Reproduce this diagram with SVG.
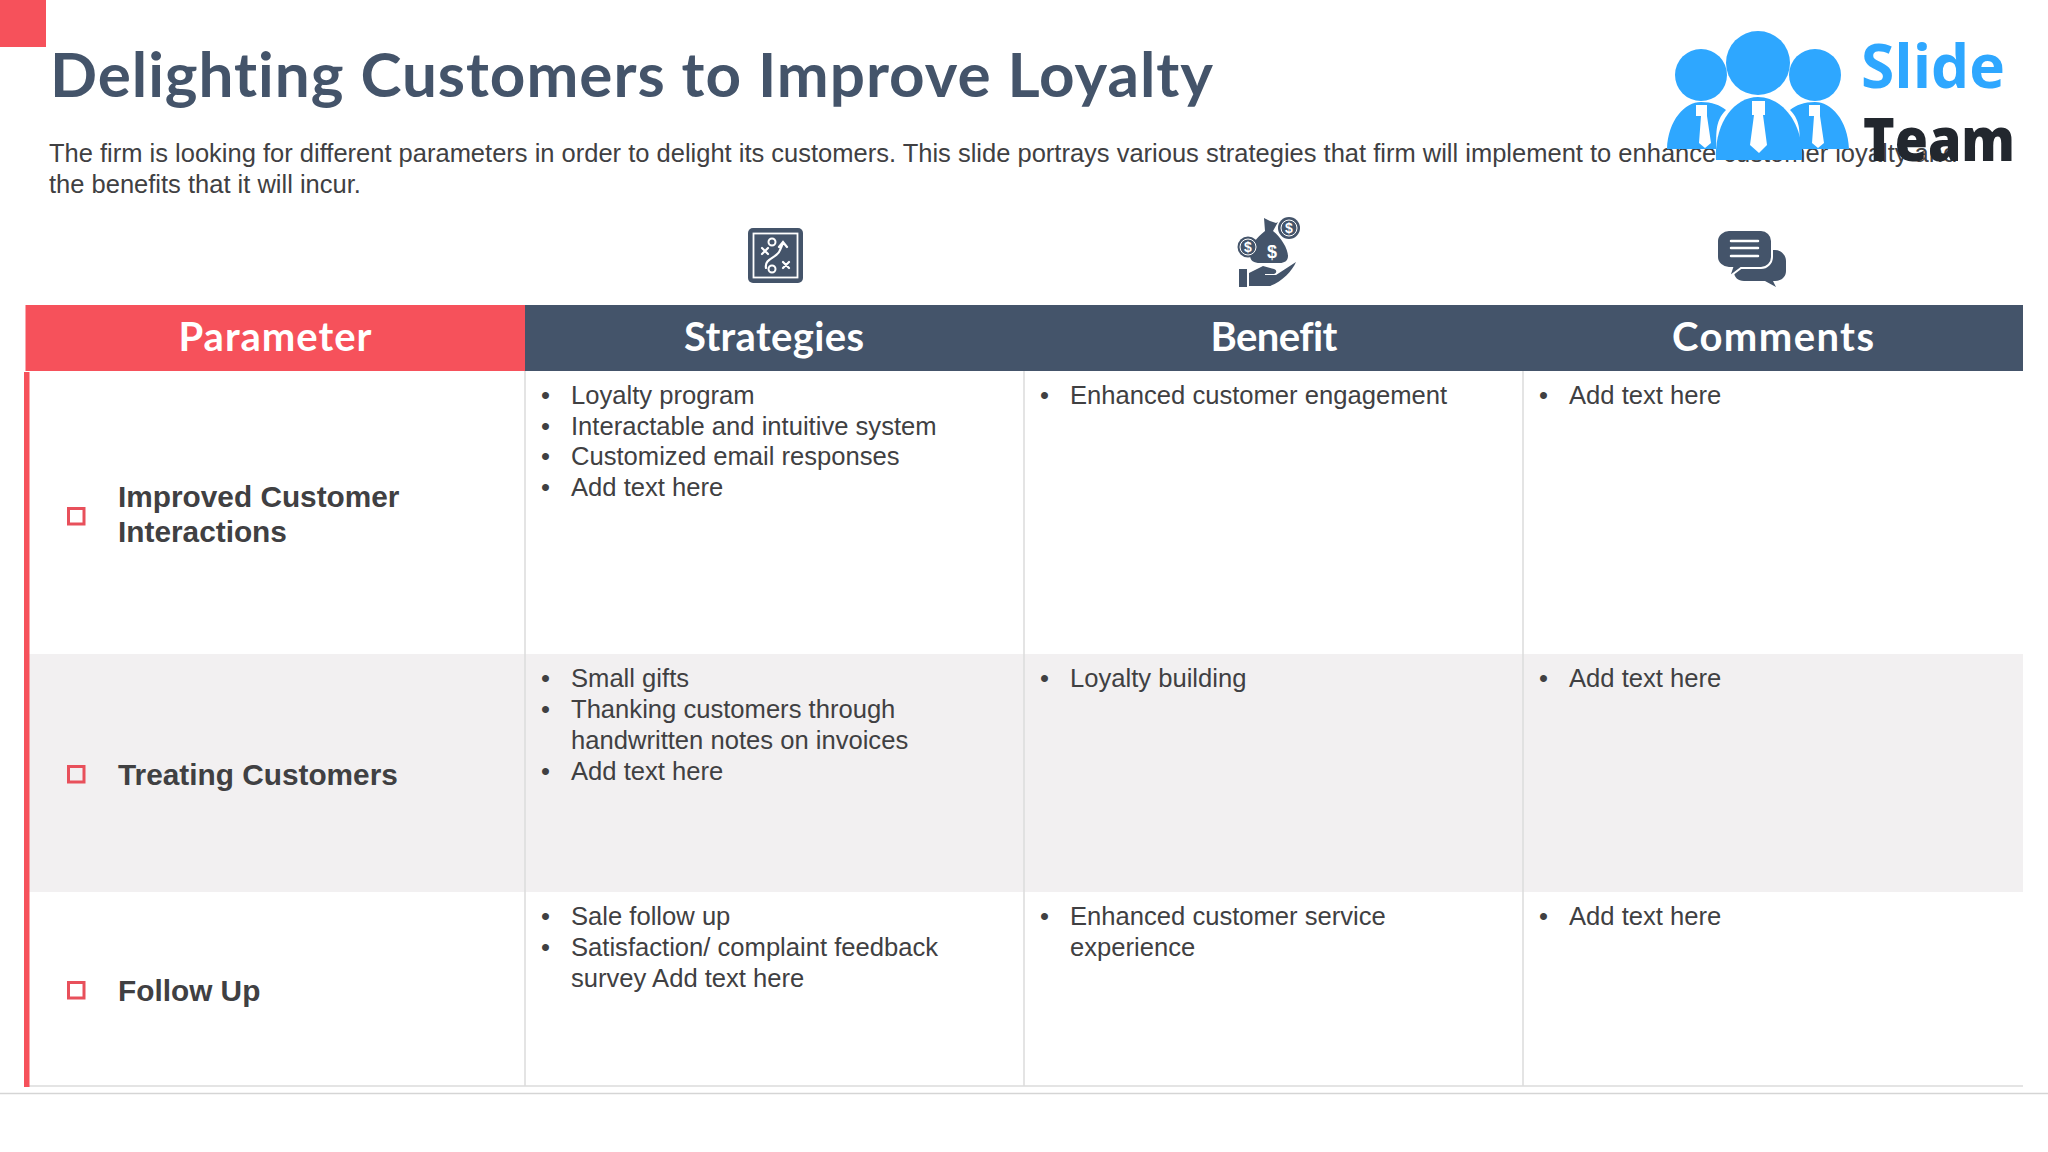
<svg xmlns="http://www.w3.org/2000/svg" width="2048" height="1152" viewBox="0 0 2048 1152">
<style>
text{font-family:"Liberation Sans",Arial,sans-serif;fill:#404042}
.b{font-size:25.6px}
.p{font-size:29.8px;font-weight:bold}
.h{font-family:Lato,"Open Sans",sans-serif;font-size:40px;font-weight:700;fill:#fff;text-anchor:middle;font-variant-ligatures:none}
.v{stroke:#dcdcdc;stroke-width:1.5;fill:none}
.sq{fill:none;stroke:#e8505b;stroke-width:3}
.ic{fill:#44546a}
.w{fill:#fff}
.ws{fill:none;stroke:#fff;stroke-linecap:round}
.lg{fill:#2ea7ff}
</style>
<rect width="2048" height="1152" fill="#fff"/>
<rect id="corner" width="46" height="47" fill="#f6515b"/>
<text id="title" x="50" y="97" textLength="1163" lengthAdjust="spacing" style="font-family:Lato,'Open Sans',sans-serif;font-size:62px;font-weight:700;fill:#44546a;font-variant-ligatures:none">Delighting Customers to Improve Loyalty</text>
<g id="intro">
<text x="49" y="162" style="font-size:25.5px">The firm is looking for different parameters in order to delight its customers. This slide portrays various strategies that firm will implement to enhance customer loyalty and</text>
<text x="49" y="193" style="font-size:25.5px">the benefits that it will incur.</text>
</g>
<g id="logo">
<circle class="lg" cx="1701" cy="75" r="26"/><circle class="lg" cx="1758" cy="63" r="32"/><circle class="lg" cx="1815" cy="75" r="26"/>
<path class="lg" d="M1667 149C1668 120 1685 102 1701 102C1712 102 1720 105 1726 110C1714 122 1717 135 1716 149Z"/>
<path class="lg" d="M1849 149C1848 120 1831 102 1815 102C1804 102 1796 105 1790 110C1802 122 1799 135 1800 149Z"/>
<path class="lg" d="M1716 160C1714 125 1733 97 1758 97C1783 97 1804 125 1802 160Z"/>
<path class="w" d="M1696 105h11v11l4 27-6 5-6-5 2-27h-5zM1752 101h13v14h-2l4 30-8 8-9-8 4-30h-2zM1809 105h11v11l4 27-6 5-6-5 2-27h-5z"/>
<text x="1861" y="88" textLength="144" lengthAdjust="spacingAndGlyphs" style="font-family:'Open Sans',sans-serif;font-size:61px;font-weight:700;fill:#2ea7ff">Slide</text>
<text x="1863" y="161" textLength="152" lengthAdjust="spacingAndGlyphs" style="font-family:'Open Sans',sans-serif;font-size:60px;font-weight:800;fill:#22272e">Team</text>
</g>
<g id="icons">
<g id="icon-strategy">
<rect class="ic" x="748" y="228" width="55" height="55" rx="5"/>
<rect x="753.500" y="233.500" width="44" height="44" fill="none" stroke="#fff" stroke-width="1.800"/>
<circle cx="772" cy="242" r="3.500" fill="none" stroke="#fff" stroke-width="2"/><circle cx="772" cy="269" r="3.500" fill="none" stroke="#fff" stroke-width="2"/>
<path class="ws" stroke-width="2.200" d="M762 248l6 6M768 248l-6 6M783 262l6 6M789 262l-6 6M766 268C764 258 778 258 780 250L783 243M779 247l4-5 4 5"/>
</g>
<g id="icon-money">
<path class="ic" d="M1264 218l6 3 6 2 2-1-5 9c8 6 15 18 15 25c0 5-4 7-8 7h-20c-6 0-10-2-10-8c0-9 7-18 15-24z"/>
<circle cx="1248" cy="247" r="10.500" class="ic"/><circle cx="1289" cy="228" r="11" class="ic"/>
<circle cx="1248" cy="247" r="8" fill="none" stroke="#fff"/><circle cx="1289" cy="228" r="8" fill="none" stroke="#fff"/>
<path class="ic" d="M1239 269h8v18h-8zM1249 273l14-7 11 3c3 1 3 4 0 5h-9v1h11l20-13c-4 9-13 19-26 24h-21z"/>
<text x="1248" y="252" text-anchor="middle" style="font-size:14px;font-weight:bold;fill:#fff">$</text>
<text x="1289" y="233" text-anchor="middle" style="font-size:14px;font-weight:bold;fill:#fff">$</text>
<text x="1272" y="258" text-anchor="middle" style="font-size:18px;font-weight:bold;fill:#fff">$</text>
</g>
<g id="icon-comment">
<path class="ic" d="M1755 250h20c6 0 11 5 11 11v10c0 6-5 10-11 10h-2l3 6-11-6h-21c-6 0-10-4-10-9v-11c0-6 9-11 21-11z"/>
<path class="ic" stroke="#fff" stroke-width="2" d="M1729 230h32c6 0 11 5 11 11v16c0 6-5 11-11 11h-20l-12 9 3-9h-3c-6 0-12-5-12-11v-16c0-6 6-11 12-11z"/>
<path class="ws" stroke-width="2.500" d="M1731 241h27M1731 248h27M1731 256h27"/>
</g>
</g>
<g id="table">
<rect y="654" x="25" width="1998" height="238" fill="#f2f0f1"/>
<rect x="25.500" y="305" width="499.500" height="66" fill="#f6515b"/>
<rect x="525" y="305" width="1498" height="66" fill="#44546a"/>
<path class="v" d="M525 371V1086M1024 371V1086M1523 371V1086M24 1086H2023"/>
<rect x="24" y="372" width="5.500" height="715" fill="#f6515b"/>
<path d="M0 1093.500H2048" stroke="#d5d5d5" stroke-width="1.500"/>
<text class="h" x="275" y="351" textLength="193">Parameter</text><text class="h" x="774" y="351" textLength="180">Strategies</text><text class="h" x="1274" y="351" textLength="127">Benefit</text><text class="h" x="1773" y="351" textLength="202">Comments</text>
</g>
<g id="row1">
<rect class="sq" x="68.500" y="508.500" width="15.500" height="15.500"/>
<text class="p"><tspan x="118" y="507">Improved Customer</tspan><tspan x="118" y="542">Interactions</tspan></text>
<text class="b" x="541" y="404">•</text><text class="b" x="541" y="435">•</text><text class="b" x="541" y="465">•</text><text class="b" x="541" y="496">•</text>
<text class="b"><tspan x="571" y="404">Loyalty program</tspan><tspan x="571" y="435">Interactable and intuitive system</tspan><tspan x="571" y="465">Customized email responses</tspan><tspan x="571" y="496">Add text here</tspan></text>
<text class="b" x="1040" y="404">•</text><text class="b" x="1070" y="404">Enhanced customer engagement</text>
<text class="b" x="1539" y="404">•</text><text class="b" x="1569" y="404">Add text here</text>
</g>
<g id="row2">
<rect class="sq" x="68.500" y="766.500" width="15.500" height="15.500"/>
<text class="p" x="118" y="785">Treating Customers</text>
<text class="b" x="541" y="687">•</text><text class="b" x="541" y="718">•</text><text class="b" x="541" y="780">•</text>
<text class="b"><tspan x="571" y="687">Small gifts</tspan><tspan x="571" y="718">Thanking customers through</tspan><tspan x="571" y="749">handwritten notes on invoices</tspan><tspan x="571" y="780">Add text here</tspan></text>
<text class="b" x="1040" y="687">•</text><text class="b" x="1070" y="687">Loyalty building</text>
<text class="b" x="1539" y="687">•</text><text class="b" x="1569" y="687">Add text here</text>
</g>
<g id="row3">
<rect class="sq" x="68.500" y="982.500" width="15.500" height="15.500"/>
<text class="p" x="118" y="1001">Follow Up</text>
<text class="b" x="541" y="925">•</text><text class="b" x="541" y="956">•</text>
<text class="b"><tspan x="571" y="925">Sale follow up</tspan><tspan x="571" y="956">Satisfaction/ complaint feedback</tspan><tspan x="571" y="987">survey Add text here</tspan></text>
<text class="b" x="1040" y="925">•</text><text class="b"><tspan x="1070" y="925">Enhanced customer service</tspan><tspan x="1070" y="956">experience</tspan></text>
<text class="b" x="1539" y="925">•</text><text class="b" x="1569" y="925">Add text here</text>
</g>
</svg>
